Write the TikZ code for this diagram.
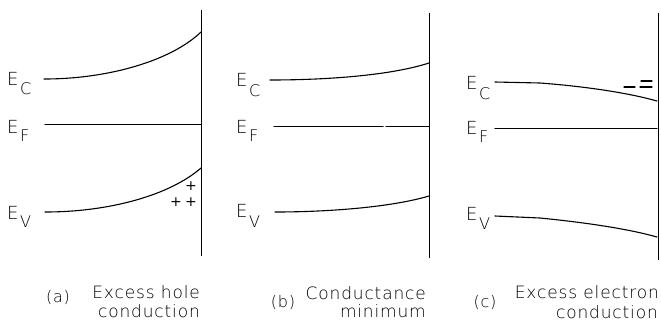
\documentclass[tikz,border=0pt]{standalone}
\usepackage{fontspec}
\setmainfont{DejaVu Sans ExtraLight}[LetterSpace=5]
\newfontfamily\regfont{DejaVu Sans}
\begin{document}
\begin{tikzpicture}[x=1pt,y=-1pt,
  band/.style={line width=1.1pt, line cap=round},
  surf/.style={line width=1pt},
  elab/.style={inner sep=0pt, anchor=west, font=\fontsize{18}{20}\selectfont},
  slab/.style={inner sep=0pt, anchor=west, font=\fontsize{16}{18}\selectfont},
  captxt/.style={inner sep=0pt, anchor=base east, font=\fontsize{17}{19}\selectfont},
  tagtxt/.style={inner sep=0pt, font=\fontsize{16}{18}\selectfont},
  chg/.style={inner sep=0pt, font=\regfont\fontsize{14}{16}\selectfont}]
\useasboundingbox (0,0) rectangle (661,322);
\fill[white] (0,0) rectangle (661,322);
% ---------- panel (a)
\coordinate (aT) at (201,10); \coordinate (aB) at (201,256);
\draw[surf] (aT) -- (aB);
\coordinate (aC0) at (44,79); \coordinate (aC1) at (201,32);
\coordinate (aF0) at (45,124.5); \coordinate (aF1) at (201,124.5);
\coordinate (aV0) at (45,212); \coordinate (aV1) at (201,168);
\draw[band] (aC0) .. controls (110,79) and (172,60) .. (aC1);
\draw[band] (aF0) -- (aF1);
\draw[band] (aV0) .. controls (110,212) and (170,195) .. (aV1);
\node[elab] (aEc) at (7,79) {E}; \node[slab] (aEcs) at (20,89) {C};
\node[elab] (aEf) at (7,127) {E}; \node[slab] (aEfs) at (20,136) {F};
\node[elab] (aEv) at (7,213) {E}; \node[slab] (aEvs) at (20,222) {V};
\node[chg] (p1) at (191,186) {+};
\node[chg] (p2) at (176,202) {+};
\node[chg] (p3) at (191,202) {+};
\node[tagtxt] (atag) at (58,297) {(a)};
\node[captxt] (acap1) at (200,298) {Excess hole};
\node[captxt] (acap2) at (200,317) {conduction};
% ---------- panel (b)
\coordinate (bT) at (429,13); \coordinate (bB) at (429,258);
\draw[surf] (bT) -- (bB);
\coordinate (bC0) at (270,80); \coordinate (bC1) at (429,63);
\coordinate (bF0) at (274,126.5); \coordinate (bFg) at (383,126.5);
\coordinate (bFh) at (386,126.5); \coordinate (bF1) at (429,126.5);
\coordinate (bV0) at (275,212); \coordinate (bV1) at (429,196);
\draw[band] (bC0) .. controls (330,80) and (392,75) .. (bC1);
\draw[band, line width=1.5pt] (bF0) -- (bFg);
\draw[band] (bFh) -- (bF1);
\draw[band] (bV0) .. controls (330,212) and (392,207) .. (bV1);
\node[elab] (bEc) at (236,80) {E}; \node[slab] (bEcs) at (249,91) {C};
\node[elab] (bEf) at (236,127) {E}; \node[slab] (bEfs) at (249,136) {F};
\node[elab] (bEv) at (236,211) {E}; \node[slab] (bEvs) at (249,222) {V};
\node[tagtxt] (btag) at (283,302) {(b)};
\node[captxt] (bcap1) at (426,299) {Conductance};
\node[captxt] (bcap2) at (426,317) {minimum};
% ---------- panel (c)
\coordinate (cT) at (658,13); \coordinate (cB) at (658,260);
\draw[surf] (cT) -- (cB);
\coordinate (cC0) at (495,82); \coordinate (cC1) at (657,101);
\coordinate (cF0) at (495,128.5); \coordinate (cF1) at (657,128.5);
\coordinate (cV0) at (495,216); \coordinate (cV1) at (657,237);
\draw[band] (cC0) -- (540,83) .. controls (580,86) and (625,92) .. (cC1);
\draw[band] (cF0) -- (cF1);
\draw[band] (cV0) -- (540,218) .. controls (580,222) and (625,228) .. (cV1);
\node[elab] (cEc) at (466,83) {E}; \node[slab] (cEcs) at (479,94) {C};
\node[elab] (cEf) at (466,128) {E}; \node[slab] (cEfs) at (479,137) {F};
\node[elab] (cEv) at (466,214) {E}; \node[slab] (cEvs) at (479,224) {V};
\coordinate (m1a) at (624,87); \coordinate (m1b) at (635,87);
\coordinate (m2a) at (640,87); \coordinate (m2b) at (652,87);
\coordinate (m3a) at (641,81); \coordinate (m3b) at (652,81);
\draw[band] (m1a) -- (m1b);
\draw[band] (m2a) -- (m2b);
\draw[band] (m3a) -- (m3b);
\node[tagtxt] (ctag) at (485,302) {(c)};
\node[captxt] (ccap1) at (659,298) {Excess electron};
\node[captxt] (ccap2) at (658,318) {conduction};
\end{tikzpicture}
\end{document}
